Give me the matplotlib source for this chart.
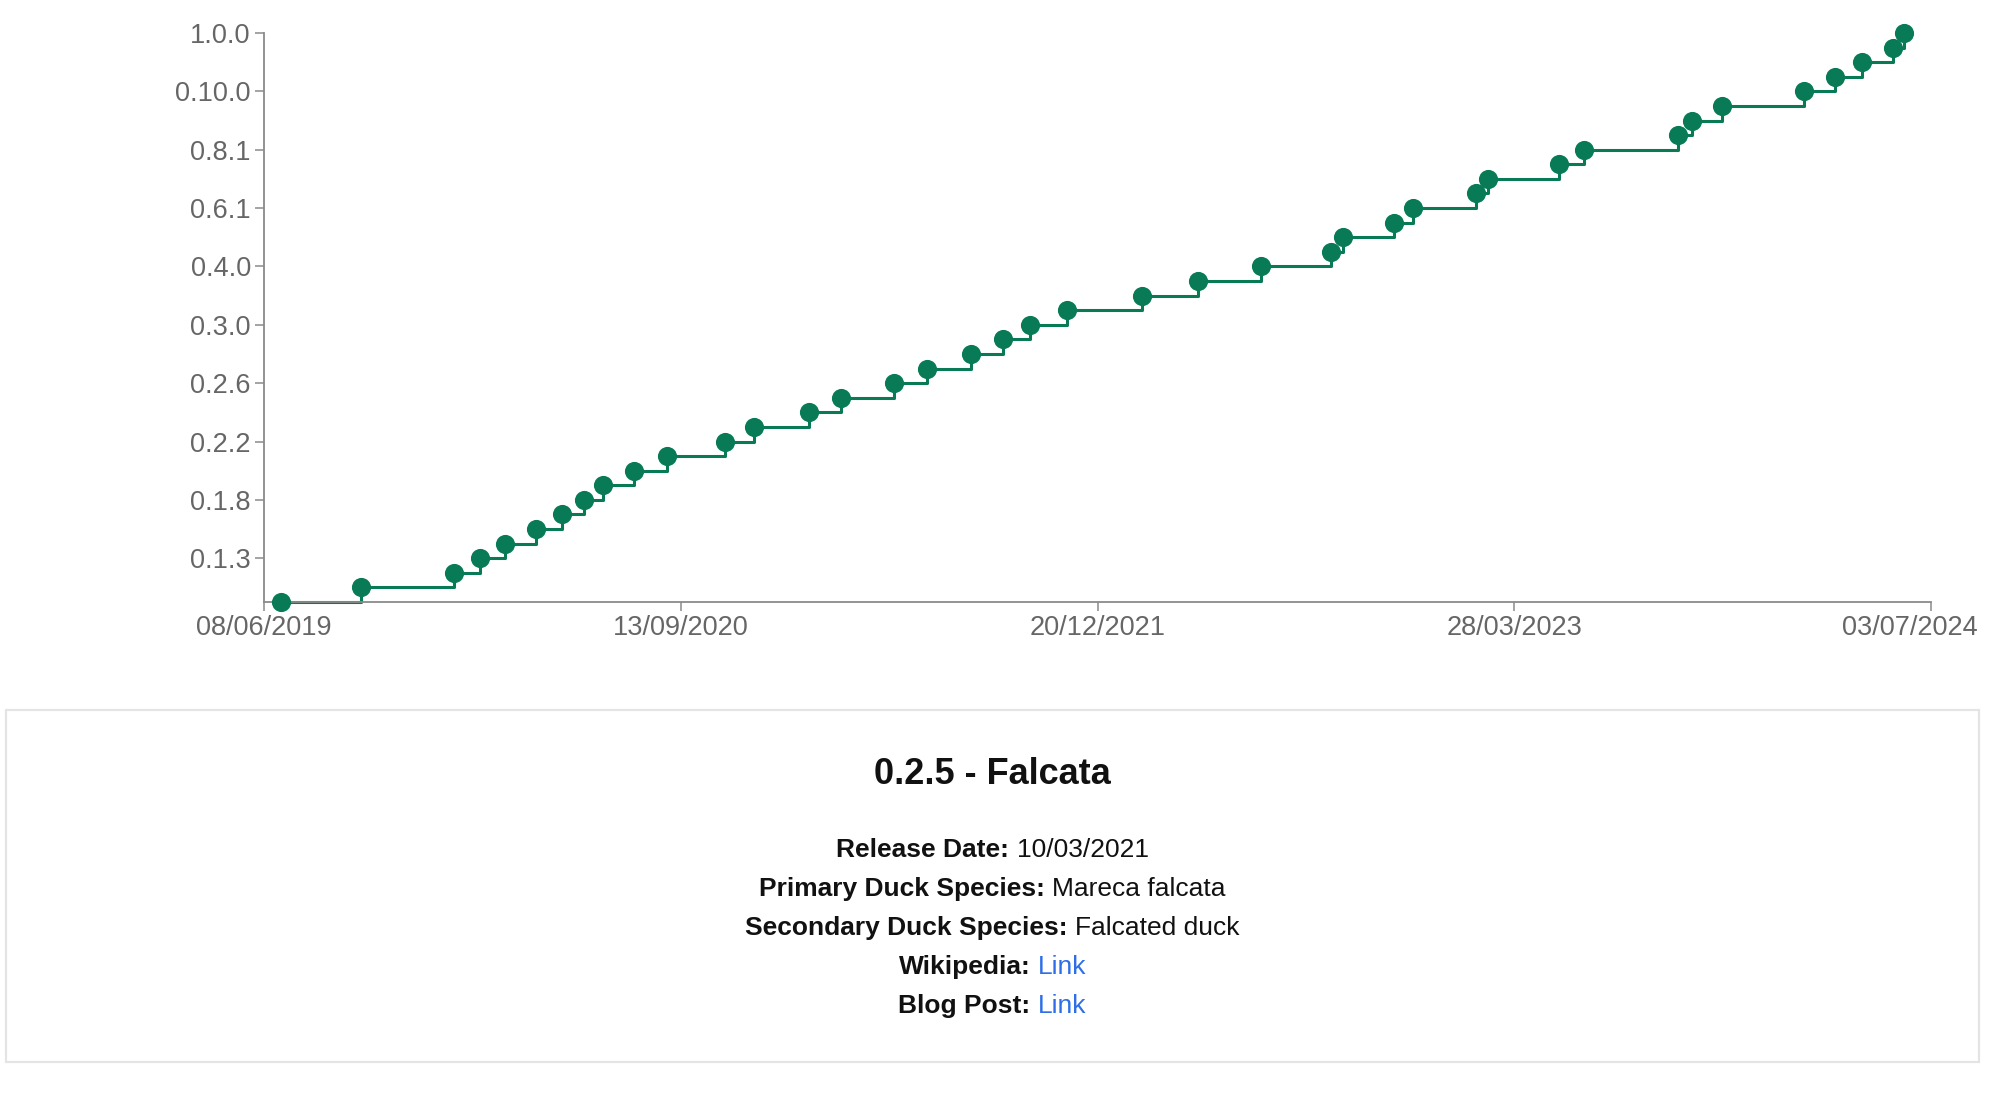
import numpy as np
import matplotlib
matplotlib.use("Agg")
import matplotlib.pyplot as plt
import matplotlib.dates as mdates
import matplotlib.transforms as mtransforms
from matplotlib.patches import Rectangle
from matplotlib.ticker import FixedLocator, FixedFormatter
import datetime as dt

# ---------------- data ----------------
versions = ["0.1.0", "0.1.1", "0.1.2", "0.1.3", "0.1.5", "0.1.6", "0.1.7", "0.1.8", "0.1.9",
            "0.2.0", "0.2.1", "0.2.2", "0.2.3", "0.2.4", "0.2.5", "0.2.6", "0.2.7", "0.2.8", "0.2.9",
            "0.3.0", "0.3.1", "0.3.2", "0.3.3", "0.4.0", "0.5.0", "0.5.1", "0.6.0", "0.6.1",
            "0.7.0", "0.7.1", "0.8.0", "0.8.1", "0.9.0", "0.9.1", "0.9.2",
            "0.10.0", "0.10.1", "0.10.2", "0.10.3", "1.0.0"]
release_dates = ["2019-06-27", "2019-09-24", "2020-01-05", "2020-02-03", "2020-03-02", "2020-04-05",
                 "2020-05-04", "2020-05-29", "2020-06-19", "2020-07-23", "2020-08-29", "2020-11-01",
                 "2020-12-03", "2021-02-02", "2021-03-10", "2021-05-08", "2021-06-14", "2021-08-02",
                 "2021-09-06", "2021-10-06", "2021-11-16", "2022-02-07", "2022-04-11", "2022-06-20",
                 "2022-09-05", "2022-09-19", "2022-11-14", "2022-12-06", "2023-02-13", "2023-02-27",
                 "2023-05-17", "2023-06-13", "2023-09-26", "2023-10-11", "2023-11-14", "2024-02-13",
                 "2024-03-18", "2024-04-17", "2024-05-22", "2024-06-03"]
y_tick_labels = ["0.1.3", "0.1.8", "0.2.2", "0.2.6", "0.3.0", "0.4.0", "0.6.1", "0.8.1", "0.10.0", "1.0.0"]
x_tick_labels = ["08/06/2019", "13/09/2020", "20/12/2021", "28/03/2023", "03/07/2024"]

panel_title = "0.2.5 - Falcata"
panel_rows = [("Release Date:", "10/03/2021", False),
              ("Primary Duck Species:", "Mareca falcata", False),
              ("Secondary Duck Species:", "Falcated duck", False),
              ("Wikipedia:", "Link", True),
              ("Blog Post:", "Link", True)]

# ---------------- style ----------------
FONT = "Liberation Sans"
plt.rcParams["font.family"] = [FONT, "DejaVu Sans"]
GREEN = "#087a56"
AXIS_C = "#8a8a8a"
LABEL_C = "#666666"
LINK_C = "#2e6fe9"

W, H = 1999, 1095
fig = plt.figure(figsize=(W / 100, H / 100), dpi=100)
fig.patch.set_facecolor("white")

left_px, right_px, top_px, bottom_px = 264, 1931, 33, 602
ax = fig.add_axes([left_px / W, 1 - bottom_px / H, (right_px - left_px) / W, (bottom_px - top_px) / H])

dates = [dt.datetime.strptime(d, "%Y-%m-%d") for d in release_dates]
xs = mdates.date2num(dates)
ys = np.arange(len(versions))

ax.plot(xs, ys, drawstyle="steps-post", color=GREEN, lw=2.2, zorder=2, clip_on=False)
ax.plot(xs, ys, "o", color=GREEN, ms=13.8, mec="none", zorder=3, clip_on=False)

xt = [mdates.date2num(dt.datetime.strptime(s, "%d/%m/%Y")) for s in x_tick_labels]
ax.set_xlim(xt[0], xt[-1])
ax.set_ylim(0, len(versions) - 1)
ax.xaxis.set_major_locator(FixedLocator(xt))
ax.xaxis.set_major_formatter(FixedFormatter(x_tick_labels))
yt = [versions.index(v) for v in y_tick_labels]
ax.yaxis.set_major_locator(FixedLocator(yt))
ax.yaxis.set_major_formatter(FixedFormatter(y_tick_labels))

for s in ["top", "right"]:
    ax.spines[s].set_visible(False)
for s in ["left", "bottom"]:
    ax.spines[s].set_color(AXIS_C)
    ax.spines[s].set_linewidth(1.3)
ax.tick_params(axis="both", length=6.5, width=1.1, color=AXIS_C, labelcolor=LABEL_C,
               labelsize=19.5, pad=3)
ax.set_facecolor("none")

# last x label is kept inside the figure (shifted left like the reference)
fig.canvas.draw()
last_lbl = ax.get_xticklabels()[-1]
last_lbl.set_transform(last_lbl.get_transform() +
                       mtransforms.ScaledTranslation(-21 / 100, 0, fig.dpi_scale_trans))

# ---------------- info panel ----------------
fig.patches.append(Rectangle((6 / W, 1 - 1062 / H), (1979 - 6) / W, (1062 - 710) / H,
                             transform=fig.transFigure, facecolor="white",
                             edgecolor="#e4e4e4", linewidth=1.6, zorder=0))

cx = 992.5
fig.text(cx / W, 1 - 775 / H, panel_title, ha="center", va="center",
         fontsize=26, fontweight="bold", color="#111111")

renderer = fig.canvas.get_renderer()
row_y = [850, 889, 928, 967, 1006]
BODY = 19
for (lab, val, is_link), yp in zip(panel_rows, row_y):
    yf = 1 - yp / H
    t1 = fig.text(0, yf, lab, ha="left", va="center", fontsize=BODY, fontweight="bold", color="#111111")
    t2 = fig.text(0, yf, val, ha="left", va="center", fontsize=BODY,
                  color=LINK_C if is_link else "#111111")
    w1 = t1.get_window_extent(renderer).width
    w2 = t2.get_window_extent(renderer).width
    gap = BODY * 100 / 72 * 0.28
    total = w1 + gap + w2
    x0 = cx - total / 2
    t1.set_x(x0 / W)
    t2.set_x((x0 + w1 + gap) / W)

fig.savefig("out.png", dpi=100, facecolor="white")
